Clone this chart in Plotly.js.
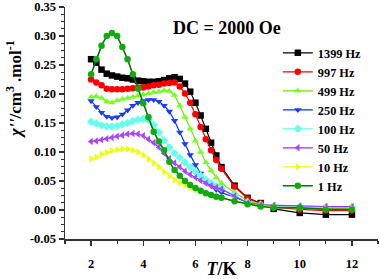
<!DOCTYPE html>
<html><head><meta charset="utf-8">
<script src="https://cdn.plot.ly/plotly-3.0.1.min.js"></script>
<style>html,body{margin:0;padding:0;background:#fff}#c{width:380px;height:279px}</style>
</head><body><div id="c"></div>
<script>
const T = [2.0,2.2,2.4,2.6,2.8,3.0,3.2,3.4,3.6,3.8,4.0,4.2,4.4,4.6,4.8,5.0,5.2,5.4,5.6,5.8,6.0,6.2,6.4,6.6,6.8,7.0,7.5,8.0,8.5,9.0,10,11,12];
const hz1399 = [0.260,0.254,0.242,0.235,0.232,0.230,0.228,0.227,0.225,0.223,0.222,0.221,0.221,0.222,0.224,0.227,0.229,0.226,0.218,0.204,0.185,0.163,0.140,0.116,0.094,0.074,0.042,0.021,0.012,0.002,-0.005,-0.008,-0.008];
const hz997 = [0.225,0.220,0.215,0.209,0.208,0.208,0.208,0.209,0.210,0.211,0.211,0.213,0.215,0.216,0.218,0.219,0.220,0.213,0.201,0.185,0.165,0.143,0.122,0.103,0.086,0.071,0.040,0.020,0.011,0.005,0.001,-0.001,-0.001];
const hz499 = [0.195,0.196,0.193,0.187,0.185,0.189,0.191,0.193,0.195,0.197,0.199,0.201,0.203,0.204,0.206,0.205,0.198,0.180,0.160,0.140,0.119,0.100,0.082,0.068,0.056,0.046,0.030,0.016,0.010,0.006,0.003,0.002,0.002];
const hz250 = [0.188,0.178,0.168,0.161,0.159,0.160,0.165,0.172,0.180,0.185,0.188,0.190,0.190,0.187,0.180,0.170,0.154,0.134,0.114,0.095,0.078,0.063,0.051,0.042,0.035,0.030,0.022,0.013,0.009,0.006,0.005,0.004,0.004];
const hz100 = [0.152,0.149,0.146,0.144,0.144,0.145,0.148,0.150,0.153,0.156,0.157,0.155,0.147,0.134,0.120,0.108,0.098,0.090,0.082,0.074,0.066,0.059,0.052,0.046,0.041,0.037,0.025,0.013,0.009,0.007,0.006,0.005,0.005];
const hz50 = [0.118,0.119,0.121,0.123,0.125,0.127,0.129,0.131,0.132,0.131,0.128,0.122,0.116,0.108,0.098,0.089,0.081,0.074,0.067,0.061,0.056,0.051,0.046,0.042,0.039,0.036,0.024,0.012,0.009,0.008,0.007,0.006,0.006];
const hz10 = [0.088,0.091,0.096,0.099,0.102,0.104,0.105,0.105,0.103,0.100,0.095,0.088,0.081,0.074,0.066,0.059,0.052,0.047,0.043,0.039,0.035,0.032,0.029,0.026,0.024,0.022,0.016,0.010,0.007,0.005,0.004,0.003,0.003];
const hz1 = [0.234,0.260,0.283,0.300,0.305,0.300,0.281,0.260,0.234,0.209,0.184,0.160,0.135,0.118,0.103,0.083,0.069,0.059,0.050,0.043,0.038,0.033,0.029,0.026,0.023,0.021,0.015,0.010,0.006,0.004,0.004,0.001,0.001];
const seriesNames = ['1399 Hz','997 Hz','499 Hz','250 Hz','100 Hz','50 Hz','10 Hz','1 Hz'];
const seriesData = [hz1399,hz997,hz499,hz250,hz100,hz50,hz10,hz1];
const yTickVals = [-0.05,0.00,0.05,0.10,0.15,0.20,0.25,0.30,0.35];
const yTickText = ['-0.05','0.00','0.05','0.10','0.15','0.20','0.25','0.30','0.35'];
const xTickVals = [2,4,6,8,10,12];
const xTickText = ['2','4','6','8','10','12'];
const yTitle = "<i>χ''</i>/cm<sup>3</sup> .mol<sup>-1</sup>";
const xTitle = '<i>T</i>/K';
const chartNote = 'DC = 2000 Oe';

const lineColors = ['#000000','#ff0000','#66ee00','#1030ff','#66ffee','#9933ff','#eeff00','#007700'];
const markerColors = ['#000000','#ff0000','#77ff22','#1a3cff','#66ffee','#aa44ff','#eeff00','#11aa11'];
const symbols = ['square','circle','triangle-up','triangle-down','diamond','triangle-left','triangle-right','circle'];
const serif = 'Liberation Serif, Times New Roman, serif';

const traces = seriesData.map((d,i)=>({
  x: T, y: d, name: seriesNames[i], type:'scatter', mode:'lines+markers',
  line:{color:lineColors[i], width: i===7 ? 1.6 : 1.2},
  marker:{symbol:symbols[i], color:markerColors[i], size:6.5, line:{width:0}}
}));

const axisCommon = {showgrid:false, zeroline:false, showline:true, linecolor:'#333', linewidth:1.5,
  ticks:'outside', ticklen:5, tickwidth:1.2, tickcolor:'#333',
  tickfont:{family:serif, size:12.5, color:'#000', weight:700}};

const layout = {
  width:380, height:279, margin:{l:65, r:2, t:7, b:40},
  paper_bgcolor:'#fff', plot_bgcolor:'#fff',
  showlegend:true,
  legend:{x:0.68, y:0.865, xanchor:'left', yanchor:'top', bgcolor:'rgba(0,0,0,0)',
    font:{family:serif, size:12.3, color:'#000', weight:700}, tracegroupgap:0},
  xaxis: Object.assign({}, axisCommon, {range:[1,13], tickmode:'array', tickvals:xTickVals, ticktext:xTickText,
    ticklabelstandoff:7,
    minor:{dtick:1, tick0:1, ticks:'outside', ticklen:3, tickcolor:'#333'},
    title:{text:xTitle, font:{family:serif, size:18, color:'#000', weight:700}, standoff:0}}),
  yaxis: Object.assign({}, axisCommon, {range:[-0.05,0.35], tickmode:'array', tickvals:yTickVals, ticktext:yTickText,
    minor:{dtick:0.0125, tick0:0, ticks:'outside', ticklen:3, tickcolor:'#333'}}),
  annotations:[
    {text:chartNote, xref:'paper', yref:'paper', x:0.517, y:0.91, xanchor:'center', yanchor:'middle',
     showarrow:false, font:{family:serif, size:18, color:'#000', weight:700}},
    {text:yTitle, xref:'paper', yref:'paper', x:-0.163, y:0.647, xanchor:'center', yanchor:'middle', textangle:-90,
     showarrow:false, font:{family:serif, size:17, color:'#000', weight:700}}
  ]
};
Plotly.newPlot('c', traces, layout, {staticPlot:true, displayModeBar:false});
</script></body></html>
